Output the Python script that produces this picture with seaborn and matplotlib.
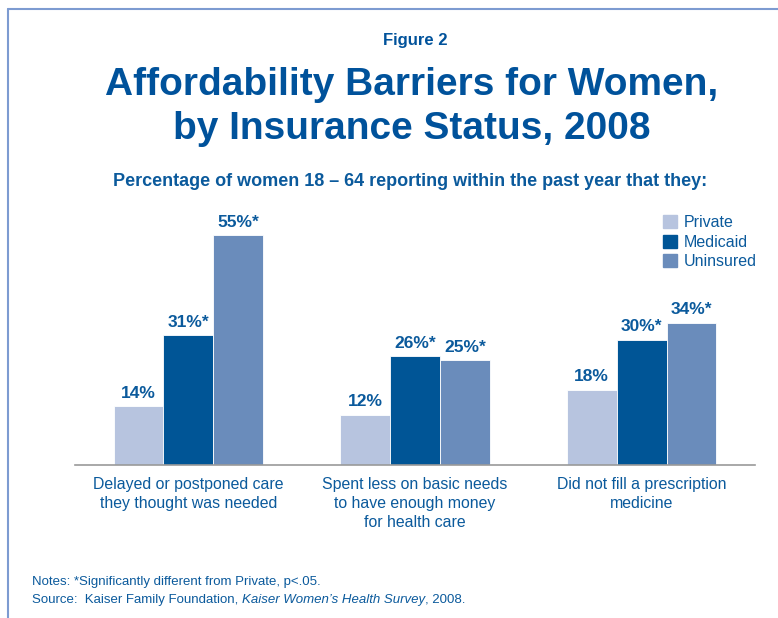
import pandas as pd
import matplotlib
matplotlib.use("Agg")
import matplotlib.pyplot as plt
import seaborn as sns
from matplotlib.lines import Line2D

# dados
categorias = [
    "Delayed or postponed care\nthey thought was needed",
    "Spent less on basic needs\nto have enough money\nfor health care",
    "Did not fill a prescription\nmedicine",
]
status = ["Private", "Medicaid", "Uninsured"]
privado = [14, 12, 18]
medicaid = [31, 26, 30]
sem_seguro = [55, 25, 34]
rotulos = {
    "Private": ["14%", "12%", "18%"],
    "Medicaid": ["31%*", "26%*", "30%*"],
    "Uninsured": ["55%*", "25%*", "34%*"],
}

cores = ["#b7c4df", "#005596", "#6a8cbb"]
azul_texto = "#0b5a9c"
azul_titulo = "#00529b"

df = pd.DataFrame({
    "categoria": categorias * 3,
    "status": [s for s in status for _ in categorias],
    "valor": privado + medicaid + sem_seguro,
})

sns.set_style("white")
plt.rcParams["font.family"] = ["Liberation Sans", "DejaVu Sans"]

W, H = 778, 618
fig = plt.figure(figsize=(W / 100, H / 100), dpi=100)


def fy(y):
    return 1 - y / H


ax = fig.add_axes([75 / W, (H - 465) / H, 680 / W, 250.8 / H])
sns.barplot(data=df, x="categoria", y="valor", hue="status", hue_order=status,
            palette=cores, width=0.66, saturation=1, edgecolor="white",
            linewidth=0.6, ax=ax)

ax.set_ylim(0, 60)
ax.set_xlim(-0.5, 2.5)
ax.set_xlabel("")
ax.set_ylabel("")
ax.set_yticks([])
for lado in ["top", "right", "left"]:
    ax.spines[lado].set_visible(False)
ax.spines["bottom"].set_color("#9a9a9a")
ax.spines["bottom"].set_linewidth(1.2)
ax.tick_params(axis="x", length=0, pad=9)
for t in ax.get_xticklabels():
    t.set_fontsize(11.4)
    t.set_color(azul_texto)
    t.set_linespacing(1.3)
    t.set_verticalalignment("top")

for cont, s in zip(ax.containers, status):
    ax.bar_label(cont, labels=rotulos[s], padding=4, fontsize=12.5,
                 fontweight="bold", color=azul_texto)

# legenda
alcas = [plt.Rectangle((0, 0), 1, 1, color=c) for c in cores]
leg = ax.legend(alcas, status, loc="upper left", frameon=False,
                bbox_to_anchor=(663 / W, fy(215)), bbox_transform=fig.transFigure,
                borderpad=0, borderaxespad=0, fontsize=11.5, handlelength=0.88,
                handleheight=0.88, handletextpad=0.42, labelspacing=0.28,
                labelcolor=azul_texto)

# títulos
fig.text(415 / W, fy(45), "Figure 2", ha="center", va="baseline",
         fontsize=12, fontweight="bold", color=azul_titulo)
fig.text(412 / W, fy(95), "Affordability Barriers for Women,", ha="center",
         va="baseline", fontsize=28, fontweight="bold", color=azul_titulo)
fig.text(412 / W, fy(139), "by Insurance Status, 2008", ha="center",
         va="baseline", fontsize=28, fontweight="bold", color=azul_titulo)
fig.text(410 / W, fy(186),
         "Percentage of women 18 \u2013 64 reporting within the past year that they:",
         ha="center", va="baseline", fontsize=13, fontweight="bold",
         color=azul_texto)

# notas
fig.text(32 / W, fy(585), "Notes: *Significantly different from Private, p<.05.",
         ha="left", va="baseline", fontsize=9.5, color=azul_texto)
partes = [("Source:  Kaiser Family Foundation, ", "normal"),
          ("Kaiser Women\u2019s Health Survey", "italic"),
          (", 2008.", "normal")]
renderer = fig.canvas.get_renderer()
x_atual = 32
for texto, estilo in partes:
    t = fig.text(x_atual / W, fy(603), texto, ha="left", va="baseline",
                 fontsize=9.5, style=estilo, color=azul_texto)
    x_atual = t.get_window_extent(renderer).x1

# moldura
moldura = "#7d9bd1"
fig.add_artist(Line2D([8 / W, 1], [fy(9), fy(9)], transform=fig.transFigure,
                      color=moldura, linewidth=1.5))
fig.add_artist(Line2D([8 / W, 8 / W], [fy(9), 0], transform=fig.transFigure,
                      color=moldura, linewidth=1.5))

fig.savefig("out.png", dpi=100)
